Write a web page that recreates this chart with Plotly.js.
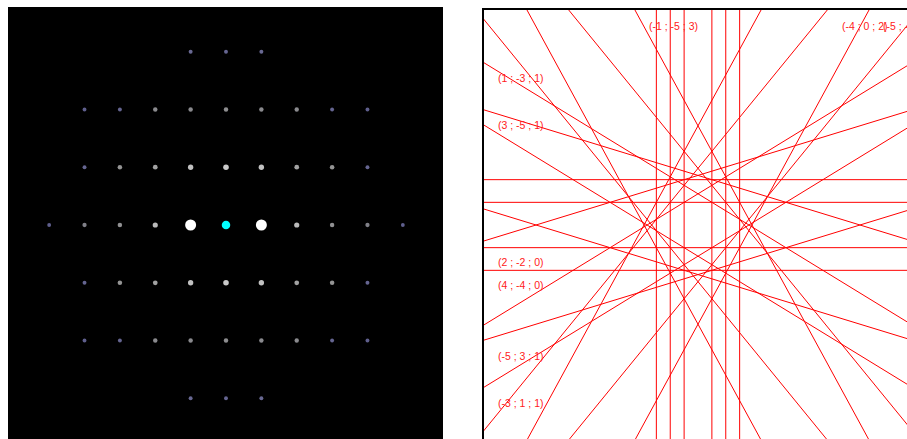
<!DOCTYPE html>
<html>
<head>
<meta charset="utf-8">
<script src="https://cdn.plot.ly/plotly-3.0.1.min.js"></script>
<style>
html,body{margin:0;padding:0;overflow:hidden;background:#fff;}
#chart{width:920px;height:450px;}
</style>
</head>
<body>
<div id="chart"></div>
<script>
// ---------- DATA ----------
// Diffraction spots of the [112] zone: grid indices along g1=(1 1 -1) (horizontal) and g2=(2 -2 0) (vertical)
const SPOT_I = [-1,0,1,
  -4,-3,-2,-1,0,1,2,3,4,
  -4,-3,-2,-1,0,1,2,3,4,
  -5,-4,-3,-2,-1,1,2,3,4,5,
  -4,-3,-2,-1,0,1,2,3,4,
  -4,-3,-2,-1,0,1,2,3,4,
  -1,0,1];
const SPOT_J = [3,3,3,
  2,2,2,2,2,2,2,2,2,
  1,1,1,1,1,1,1,1,1,
  0,0,0,0,0,0,0,0,0,0,
  -1,-1,-1,-1,-1,-1,-1,-1,-1,
  -2,-2,-2,-2,-2,-2,-2,-2,-2,
  -3,-3,-3];
// relative intensities (read from brightness)
const SPOT_INT = [0.12,0.1,0.12,
  0.05,0.1,0.3,0.3,0.32,0.3,0.3,0.1,0.05,
  0.1,0.35,0.42,0.6,0.66,0.6,0.42,0.35,0.1,
  0.05,0.25,0.33,0.55,1.0,1.0,0.55,0.33,0.25,0.05,
  0.1,0.35,0.42,0.6,0.66,0.6,0.42,0.35,0.1,
  0.05,0.1,0.3,0.3,0.32,0.3,0.3,0.1,0.05,
  0.12,0.1,0.12];
// Kikuchi line pairs (Miller indices h k l), one entry per +/-g pair
const KIK_H = [1,2,3,2,4,3,-1,5,-3,4,0,5,1];
const KIK_K = [1,2,3,-2,-4,-1,3,-3,5,0,4,1,5];
const KIK_L = [-1,-2,-3,0,0,-1,-1,-1,-1,-2,-2,-3,-3];
// Labels shown on the Kikuchi map
const LABELS = ["(1 ; -3 ; 1)","(3 ; -5 ; 1)","(2 ; -2 ; 0)","(4 ; -4 ; 0)","(-5 ; 3 ; 1)","(-3 ; 1 ; 1)",
                "(-1 ; -5 ; 3)","(-4 ; 0 ; 2)","(-5 ; -1 ; 3)"];

// ---------- GEOMETRY / LAYOUT ----------
const W = 920, H = 450;
const S3 = Math.sqrt(3), S8 = Math.sqrt(8), S2 = Math.sqrt(2);
const L = {x0:8, x1:443, y0:7, y1:442, cx:226, cy:225, k:20.42};
const R = {x0:483, x1:913, y0:9, y1:441, cx:698, cy:225, k:16.03};

function px2dx(P, px){return (px - P.cx)/P.k;}
function px2dy(P, py){return (P.cy - py)/P.k;}

// intensity -> colour (explicit interpolation)
const CSTOPS = [[0,[88,88,138]],[0.12,[104,104,146]],[0.25,[128,128,136]],[0.35,[148,148,148]],
                [0.5,[178,178,178]],[0.7,[208,208,208]],[0.9,[255,255,255]],[1,[255,255,255]]];
function icolor(v){
  for (let n = 1; n < CSTOPS.length; n++) {
    if (v <= CSTOPS[n][0]) {
      const a = CSTOPS[n-1], b = CSTOPS[n], f = (v - a[0])/(b[0]-a[0]);
      const c = a[1].map((q, m) => Math.round(q + f*(b[1][m]-q)));
      return 'rgb(' + c.join(',') + ')';
    }
  }
  return 'rgb(255,255,255)';
}

const sx = SPOT_I.map(i => i*S3);
const sy = SPOT_J.map(j => j*S8);
const sSize = SPOT_INT.map(v => v >= 0.9 ? 11 : 3.8 + 3.2*Math.pow(v,1.4));
const sCol = SPOT_INT.map(icolor);

const lx = [], ly = [];
for (let n = 0; n < KIK_H.length; n++) {
  const h = KIK_H[n], k = KIK_K[n], l = KIK_L[n];
  const gx = (h + k - l)/S3, gy = (h - k)/S2;
  const g = Math.hypot(gx, gy);
  const nx = gx/g, ny = gy/g, tx = -ny, ty = nx;
  for (const s of [1,-1]) {
    const d = s*g/2;
    lx.push(d*nx - 40*tx, d*nx + 40*tx, null);
    ly.push(d*ny - 40*ty, d*ny + 40*ty, null);
  }
}

const traces = [
  {type:'scatter', mode:'markers', x:sx, y:sy, xaxis:'x', yaxis:'y', hoverinfo:'skip',
   marker:{size:sSize, color:sCol, opacity:1, line:{width:0}}},
  {type:'scatter', mode:'markers', x:[0], y:[0], xaxis:'x', yaxis:'y', hoverinfo:'skip',
   marker:{size:8.5, color:'#00ffff', opacity:1, line:{width:0}}},
  {type:'scatter', mode:'lines', x:lx, y:ly, xaxis:'x2', yaxis:'y2', hoverinfo:'skip',
   line:{color:'#ff0000', width:1}, connectgaps:false}
];

const ax = {showgrid:false, zeroline:false, showticklabels:false, ticks:'', showline:false, fixedrange:true};

const LABEL_POS = [[497,77.5],[497,125],[497,262],[497,285],[497,355.5],[497,402.5],[648,25.5],[841,25.5],[882,25.5]];
const annotations = LABELS.map((t, n) => ({
  text: t, showarrow:false, xref:'x2', yref:'y2',
  x: px2dx(R, LABEL_POS[n][0]), y: px2dy(R, LABEL_POS[n][1]),
  xanchor:'left', yanchor:'middle', borderpad:0,
  font:{family:'Liberation Sans, Arial, sans-serif', size:10.5, color:'#ff2020'}
}));

const layout = {
  width:W, height:H, margin:{l:0,r:0,t:0,b:0,pad:0},
  paper_bgcolor:'#ffffff', plot_bgcolor:'rgba(0,0,0,0)', showlegend:false,
  xaxis: Object.assign({}, ax, {domain:[L.x0/W, L.x1/W], range:[px2dx(L,L.x0), px2dx(L,L.x1)]}),
  yaxis: Object.assign({}, ax, {domain:[1-L.y1/H, 1-L.y0/H], range:[px2dy(L,L.y1), px2dy(L,L.y0)]}),
  xaxis2: Object.assign({}, ax, {domain:[R.x0/W, R.x1/W], range:[px2dx(R,R.x0), px2dx(R,R.x1)], anchor:'y2'}),
  yaxis2: Object.assign({}, ax, {domain:[1-R.y1/H, 1-R.y0/H], range:[px2dy(R,R.y1), px2dy(R,R.y0)], anchor:'x2'}),
  shapes:[
    {type:'rect', xref:'paper', yref:'paper', x0:L.x0/W, x1:L.x1/W, y0:1-L.y1/H, y1:1-L.y0/H,
     fillcolor:'#000000', line:{width:0}, layer:'below'},
    {type:'rect', xref:'paper', yref:'paper', x0:R.x0/W, x1:R.x1/W, y0:1-R.y1/H, y1:1-R.y0/H,
     fillcolor:'rgba(0,0,0,0)', line:{width:2, color:'#000000'}, layer:'above'}
  ],
  annotations: annotations
};

Plotly.newPlot('chart', traces, layout, {displayModeBar:false, staticPlot:true});
</script>
</body>
</html>
